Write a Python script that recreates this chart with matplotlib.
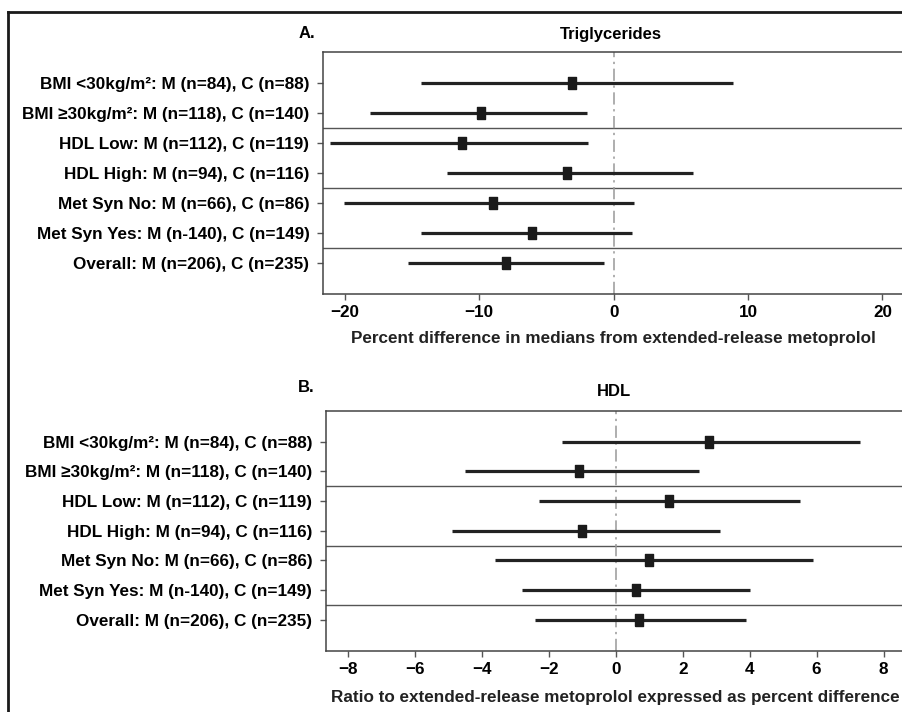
"""Forest plots: subgroup effects on triglycerides (A) and HDL (B)."""
import numpy as np
import matplotlib
matplotlib.use("Agg")
import matplotlib.pyplot as plt
from matplotlib.lines import Line2D

plt.rcParams.update({"font.family": ["Liberation Sans", "DejaVu Sans"], "font.weight": "bold",
                     "font.size": 12.3, "axes.linewidth": 1.1})

labels = ["BMI <30kg/m²: M (n=84), C (n=88)",
          "BMI ≥30kg/m²: M (n=118), C (n=140)",
          "HDL Low: M (n=112), C (n=119)",
          "HDL High: M (n=94), C (n=116)",
          "Met Syn No: M (n=66), C (n=86)",
          "Met Syn Yes: M (n-140), C (n=149)",
          "Overall: M (n=206), C (n=235)"]

# panel A: triglycerides, percent difference in medians
tg_est = [-3.1, -9.9, -11.3, -3.5, -9.0, -6.1, -8.0]
tg_lo = [-14.3, -18.1, -21.1, -12.4, -20.1, -14.3, -15.3]
tg_hi = [8.9, -2.0, -1.9, 5.9, 1.5, 1.4, -0.7]

# panel B: HDL, ratio expressed as percent difference
hdl_est = [2.8, -1.1, 1.6, -1.0, 1.0, 0.6, 0.7]
hdl_lo = [-1.6, -4.5, -2.3, -4.9, -3.6, -2.8, -2.4]
hdl_hi = [7.3, 2.5, 5.5, 3.1, 5.9, 4.0, 3.9]

rect = [(-0.3, -0.5), (0.3, -0.5), (0.3, 0.5), (-0.3, 0.5), (-0.3, -0.5)]


def forest(ax, est, lo, hi, xlim, ticks, xlabel, label_y):
    y = np.arange(len(labels), 0, -1)
    for yi, l, h in zip(y, lo, hi):
        ax.plot([l, h], [yi, yi], color="#222222", lw=2.3, solid_capstyle="butt", zorder=3)
    ax.plot(est, y, ls="none", marker=rect, ms=8.5, color="#1a1a1a", zorder=4)
    for s in [5.5, 3.5, 1.5]:
        ax.axhline(s, color="#555555", lw=1.0)
    ax.axvline(0, color="#999999", lw=1.1, ls=(0, (8, 3, 1.5, 3)), zorder=2)
    ax.set_xlim(*xlim)
    ax.set_ylim(-0.05, 8.05)
    ax.set_yticks(y)
    ax.set_yticklabels(labels)
    ax.set_xticks(ticks)
    for sp in ax.spines.values():
        sp.set_color("#444444")
    ax.tick_params(axis="both", length=4, width=1.0, color="#555555", pad=4, labelsize=12.3)
    ax.tick_params(axis="y", pad=6)
    ax.text(0, label_y, xlabel, transform=ax.get_xaxis_transform(), ha="center", va="center",
            fontsize=12.3, fontweight="bold", color="#222222")


fig = plt.figure(figsize=(9.02, 7.12), dpi=100)
ax1 = fig.add_axes([0.3585, 0.5871, 0.6437, 0.3399])
ax2 = fig.add_axes([0.3615, 0.0861, 0.6422, 0.3371])

forest(ax1, tg_est, tg_lo, tg_hi, (-21.6, 21.6), [-20, -10, 0, 10, 20],
       "Percent difference in medians from extended-release metoprolol", -0.182)
forest(ax2, hdl_est, hdl_lo, hdl_hi, (-8.65, 8.65), [-8, -6, -4, -2, 0, 2, 4, 6, 8],
       "Ratio to extended-release metoprolol expressed as percent difference", -0.196)

fig.text(307 / 902, 1 - 33 / 712, "A.", ha="center", va="center", fontsize=12, fontweight="bold")
fig.text(611 / 902, 1 - 34 / 712, "Triglycerides", ha="center", va="center", fontsize=12, fontweight="bold")
fig.text(306 / 902, 1 - 387 / 712, "B.", ha="center", va="center", fontsize=12, fontweight="bold")
fig.text(614 / 902, 1 - 391 / 712, "HDL", ha="center", va="center", fontsize=12, fontweight="bold")

# outer frame (only top and left edges fall inside the picture)
fig.add_artist(Line2D([8 / 902, 8 / 902], [0, 1 - 12 / 712], color="#1a1a1a", lw=2.0))
fig.add_artist(Line2D([8 / 902, 1], [1 - 12 / 712, 1 - 12 / 712], color="#1a1a1a", lw=2.0))

fig.savefig("out.png", dpi=100)
